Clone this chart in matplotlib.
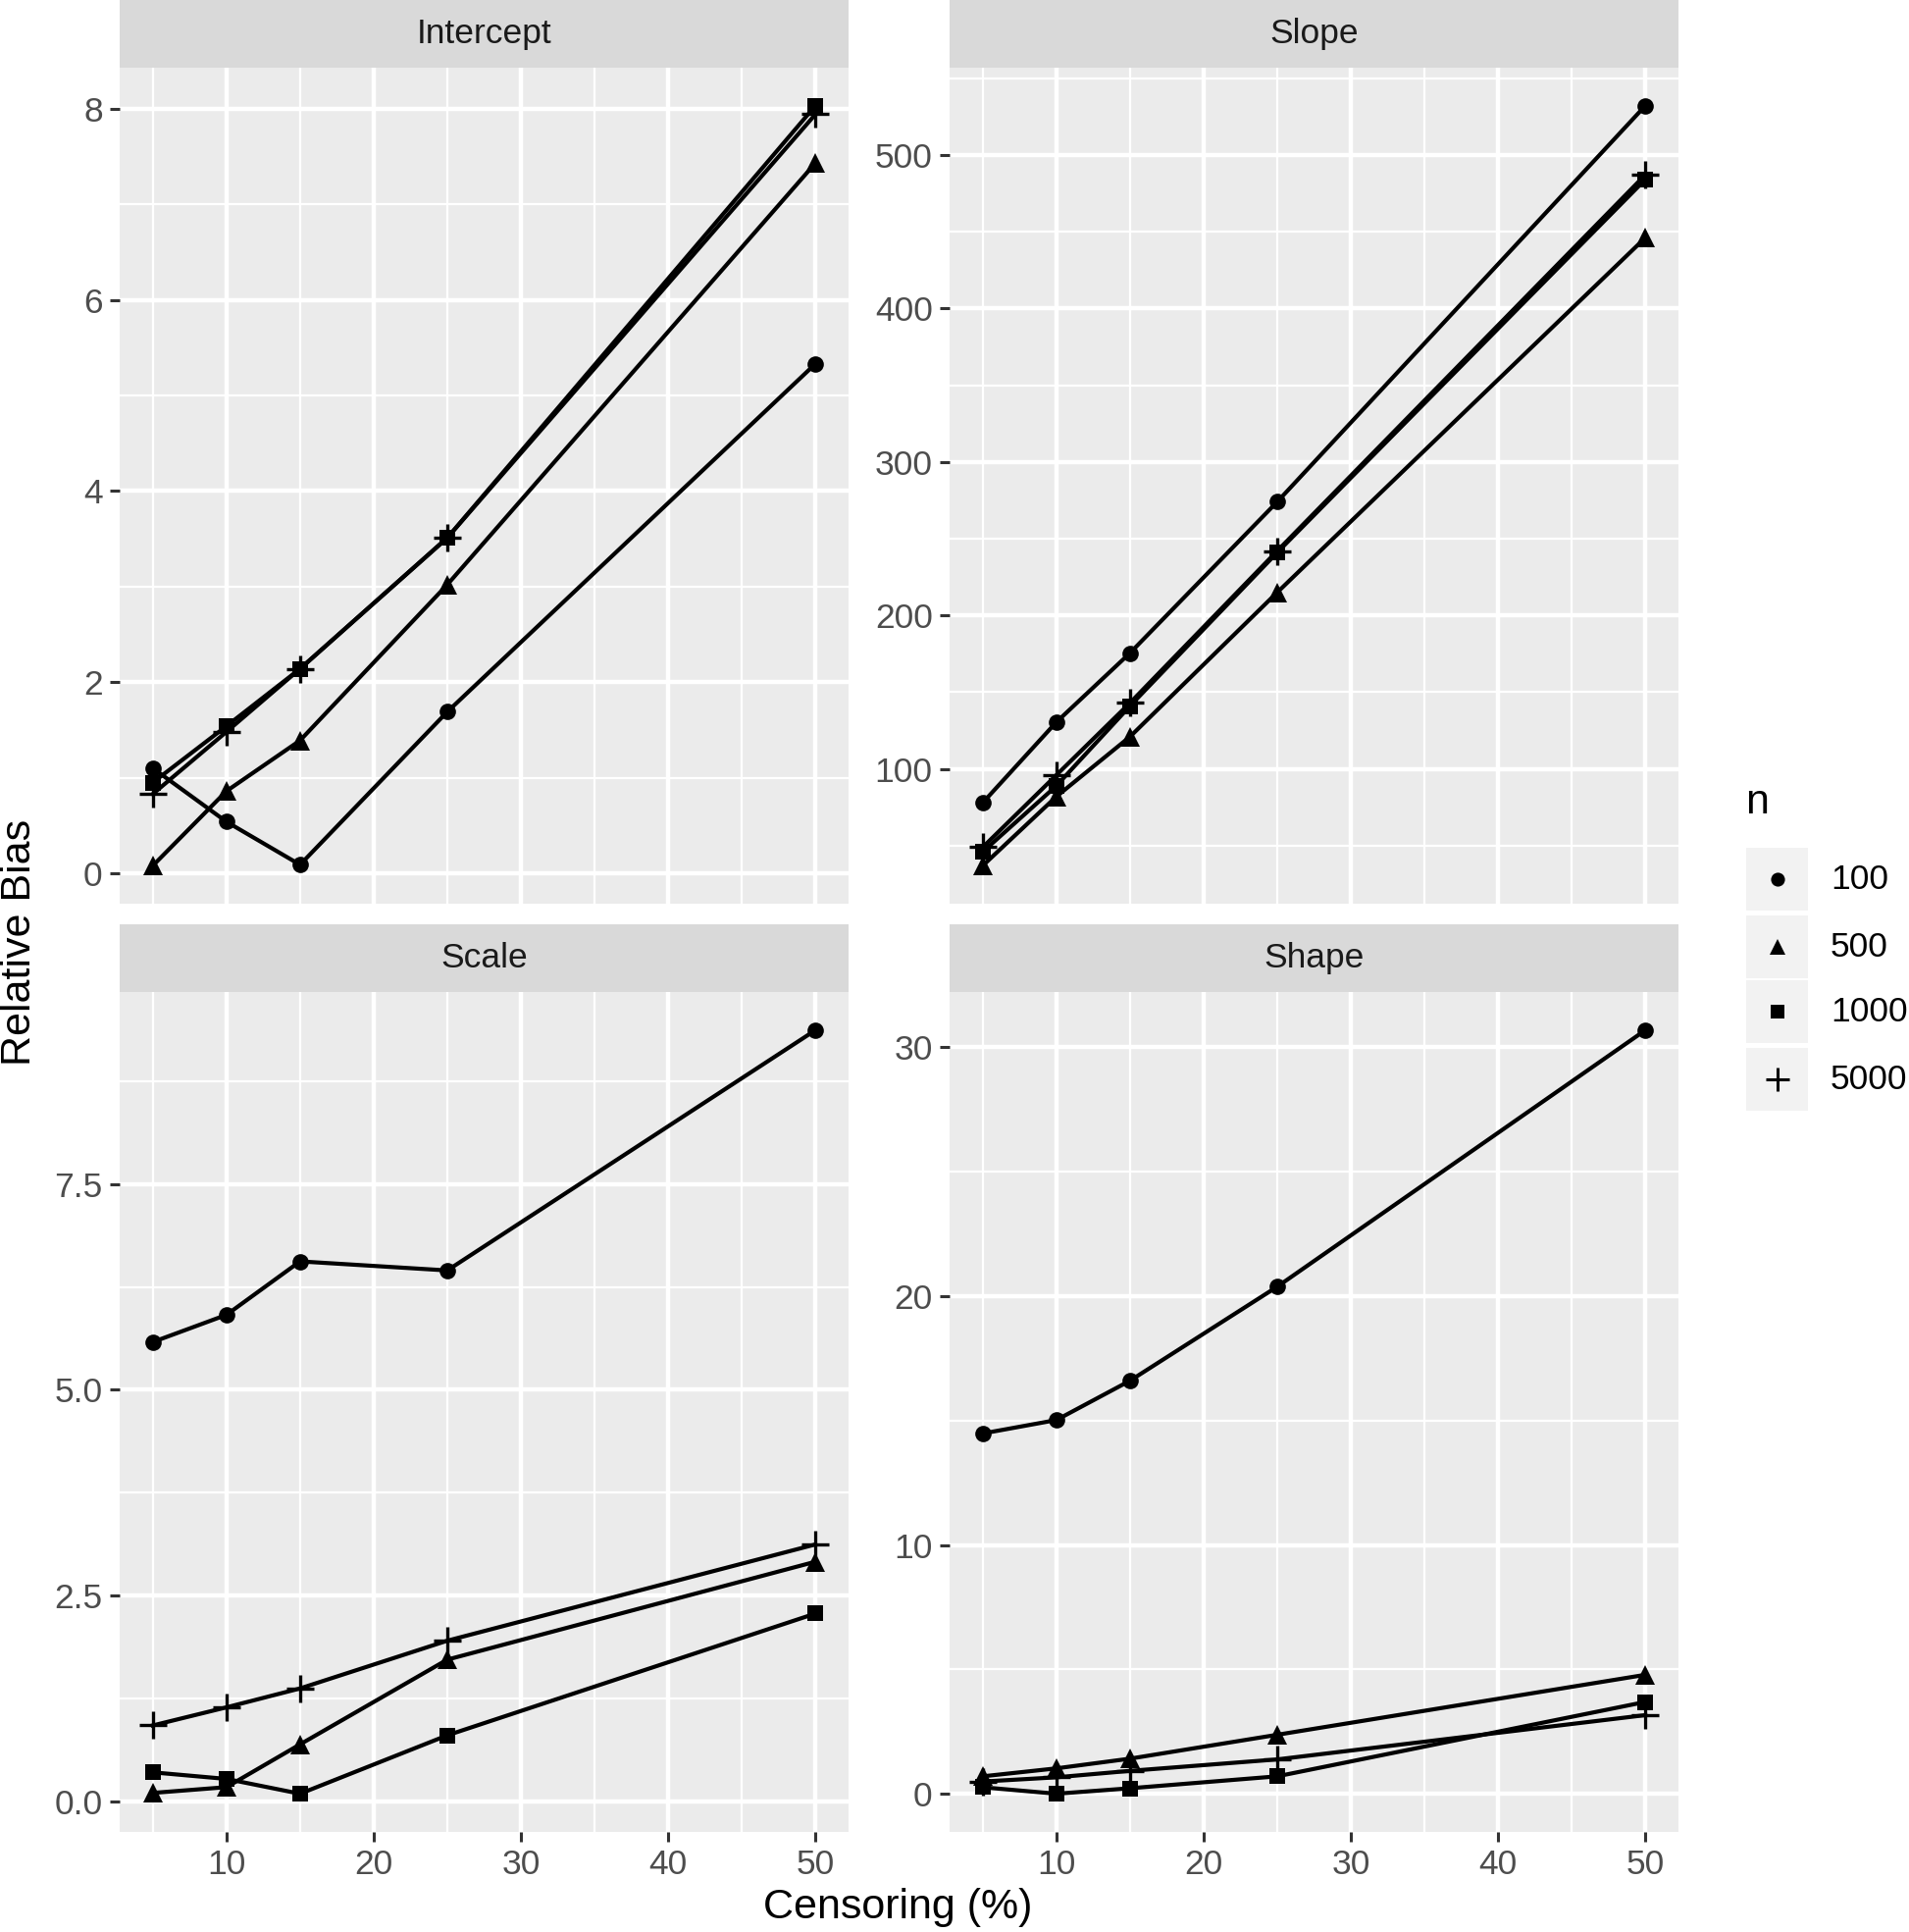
import matplotlib
matplotlib.use("Agg")
import matplotlib.pyplot as plt
from matplotlib.ticker import MultipleLocator, FixedLocator
from matplotlib.patches import Rectangle

plt.rcParams['font.family'] = ['Liberation Sans', 'DejaVu Sans']

censoring = [5, 10, 15, 25, 50]
n_levels = ["100", "500", "1000", "5000"]
panels = ["Intercept", "Slope", "Scale", "Shape"]

intercept_100 = [1.10, 0.54, 0.09, 1.69, 5.33]
intercept_500 = [0.08, 0.86, 1.39, 3.02, 7.43]
intercept_1000 = [0.95, 1.54, 2.14, 3.51, 8.03]
intercept_5000 = [0.83, 1.48, 2.14, 3.51, 7.94]

slope_100 = [78, 130.5, 175.5, 274, 532]
slope_500 = [37, 82, 121, 215, 446]
slope_1000 = [46, 89, 141, 241, 484]
slope_5000 = [49, 96, 143, 242, 487]

scale_100 = [5.58, 5.91, 6.56, 6.45, 9.37]
scale_500 = [0.10, 0.17, 0.69, 1.72, 2.91]
scale_1000 = [0.35, 0.27, 0.09, 0.80, 2.28]
scale_5000 = [0.92, 1.14, 1.37, 1.95, 3.12]

shape_100 = [14.48, 15.02, 16.6, 20.38, 30.69]
shape_500 = [0.70, 1.02, 1.41, 2.37, 4.78]
shape_1000 = [0.26, 0.00, 0.22, 0.70, 3.69]
shape_5000 = [0.49, 0.66, 0.92, 1.38, 3.16]

data = {
    "Intercept": [intercept_100, intercept_500, intercept_1000, intercept_5000],
    "Slope": [slope_100, slope_500, slope_1000, slope_5000],
    "Scale": [scale_100, scale_500, scale_1000, scale_5000],
    "Shape": [shape_100, shape_500, shape_1000, shape_5000],
}
y_major = {"Intercept": 2, "Slope": 100, "Scale": 2.5, "Shape": 10}
x_ticks = [10, 20, 30, 40, 50]

markers = ['o', '^', 's', '+']
msizes = [12, 14, 12, 20]

W, H = 1946, 1969
fig = plt.figure(figsize=(W / 100, H / 100), dpi=100)

def fig_axes(x0, y0, x1, y1):
    return fig.add_axes([x0 / W, 1 - y1 / H, (x1 - x0) / W, (y1 - y0) / H])

boxes = {
    "Intercept": (122, 69, 865, 921),
    "Slope": (968, 69, 1711, 921),
    "Scale": (122, 1011, 865, 1867),
    "Shape": (968, 1011, 1711, 1867),
}
strip_h = 69
bg = '#EBEBEB'
tick_col = '#4D4D4D'
small_fs = 25.5
big_fs = 31

for name in panels:
    x0, y0, x1, y1 = boxes[name]
    ax = fig_axes(x0, y0, x1, y1)
    ax.set_facecolor(bg)
    for s in ax.spines.values():
        s.set_visible(False)
    series = data[name]
    for vals, m, ms in zip(series, markers, msizes):
        ax.plot(censoring, vals, color='black', lw=3.0, marker=m, markersize=ms,
                markeredgewidth=2.4 if m == '+' else 0, zorder=3)
    allv = [v for s in series for v in s]
    lo, hi = min(allv), max(allv)
    pad = 0.05 * (hi - lo)
    ax.set_ylim(lo - pad, hi + pad)
    ax.set_xlim(5 - 0.05 * 45, 50 + 0.05 * 45)
    ax.xaxis.set_major_locator(FixedLocator(x_ticks))
    ax.xaxis.set_minor_locator(FixedLocator([5, 15, 25, 35, 45]))
    ax.yaxis.set_major_locator(MultipleLocator(y_major[name]))
    ax.yaxis.set_minor_locator(MultipleLocator(y_major[name] / 2))
    ax.grid(which='major', color='white', lw=3.2)
    ax.grid(which='minor', color='white', lw=1.6)
    ax.set_axisbelow(True)
    ax.tick_params(which='minor', length=0)
    ax.tick_params(which='major', length=7.5, width=2.2, color='#333333',
                   labelsize=small_fs, labelcolor=tick_col, pad=5)
    if name in ("Intercept", "Slope"):
        ax.tick_params(axis='x', which='major', length=0, labelbottom=False)
    # strip
    sax = fig_axes(x0, y0 - strip_h, x1, y0)
    sax.set_facecolor('#D9D9D9')
    sax.set_xticks([]); sax.set_yticks([])
    for s in sax.spines.values():
        s.set_visible(False)
    sax.text(0.5, 0.5, name, ha='center', va='center', fontsize=small_fs,
             color='#1A1A1A', transform=sax.transAxes)

# axis titles
fig.text(915 / W, 1 - 1944 / H, "Censoring (%)", ha='center', va='center', fontsize=big_fs)
fig.text(20 / W, 1 - 960 / H, "Relative Bias", ha='center', va='center',
         fontsize=big_fs, rotation=90)

# legend
lax = fig.add_axes([0, 0, 1, 1], facecolor='none')
lax.set_xlim(0, W); lax.set_ylim(H, 0)
lax.axis('off')
lax.text(1779, 818, "n", ha='left', va='center', fontsize=big_fs)
key_tops = [864, 933, 999, 1068]
for top, lab, m, ms in zip(key_tops, n_levels, markers, msizes):
    lax.add_patch(Rectangle((1780, top), 63, 64, facecolor='#F2F2F2', edgecolor='none'))
    lax.plot([1811.5], [top + 32], marker=m, color='black',
             markersize=ms * 0.85, markeredgewidth=2.2 if m == '+' else 0)
    lax.text(1866, top + 32, lab, ha='left', va='center', fontsize=small_fs)

fig.savefig("out.png", dpi=100)
